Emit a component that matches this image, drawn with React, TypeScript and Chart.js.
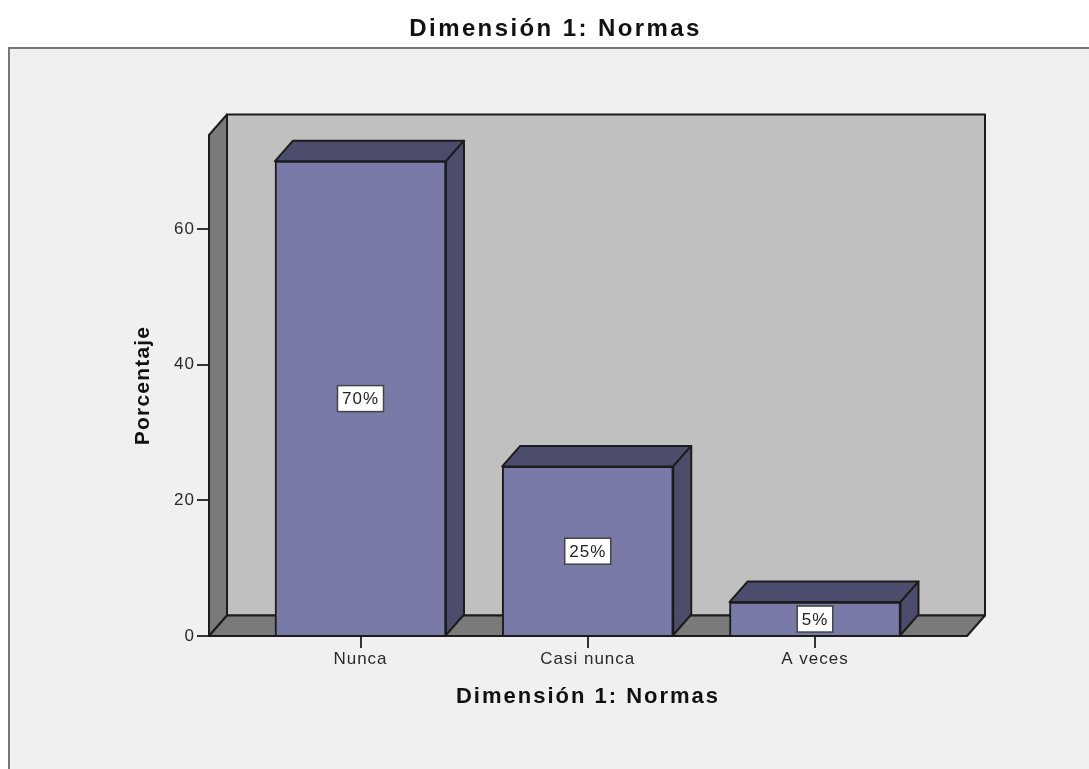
import React, { useEffect, useRef } from "react";
import { Chart, registerables } from "chart.js";

Chart.register(...registerables);

const chartTitle = "Dimensión 1: Normas";
const xAxisTitle = "Dimensión 1: Normas";
const yAxisTitle = "Porcentaje";
const categories = ["Nunca", "Casi nunca", "A veces"];
const values = [70, 25, 5];
const valueLabels = ["70%", "25%", "5%"];
const yTicks = [0, 20, 40, 60];

const FONT = "'Liberation Sans', Arial, sans-serif";
const DX = 18;
const DY = -20.5;
const LINE = "#1c1c1c";
const TICK_SPACING = "1px";

function poly(ctx: CanvasRenderingContext2D, pts: number[][], fill: string, lw = 2) {
  ctx.beginPath();
  pts.forEach(([x, y], i) => (i ? ctx.lineTo(x, y) : ctx.moveTo(x, y)));
  ctx.closePath();
  ctx.fillStyle = fill;
  ctx.fill();
  ctx.lineWidth = lw;
  ctx.strokeStyle = LINE;
  ctx.lineJoin = "round";
  ctx.stroke();
}

function spaced(ctx: any, obj: any, method: string, px: string) {
  const original = obj[method];
  obj[method] = function (...args: any[]) {
    ctx.letterSpacing = px;
    const r = original.apply(this, args);
    ctx.letterSpacing = TICK_SPACING;
    return r;
  };
}

const look3d = {
  id: "look3d",
  afterLayout(chart: any) {
    chart.titleBlock.left = 72;
    chart.titleBlock.right = chart.chartArea.right + 72;
    if (chart.$spaced) return;
    chart.$spaced = true;
    const ctx = chart.ctx;
    spaced(ctx, chart.titleBlock, "draw", "2.4px");
    spaced(ctx, chart.scales.x, "drawTitle", "2px");
    spaced(ctx, chart.scales.y, "drawTitle", "1.2px");
  },
  beforeDraw(chart: any) {
    const ctx = chart.ctx;
    ctx.letterSpacing = TICK_SPACING;
    ctx.save();
    ctx.fillStyle = "#ffffff";
    ctx.fillRect(0, 0, chart.width, chart.height);
    ctx.fillStyle = "#f0f0f0";
    ctx.fillRect(9, 48, chart.width - 9, chart.height - 48);
    ctx.strokeStyle = "#777777";
    ctx.lineWidth = 2;
    ctx.beginPath();
    ctx.moveTo(9, chart.height);
    ctx.lineTo(9, 48);
    ctx.lineTo(chart.width, 48);
    ctx.stroke();
    ctx.restore();
  },
  beforeDatasetsDraw(chart: any) {
    const ctx = chart.ctx;
    const { left, right, top, bottom } = chart.chartArea;
    ctx.save();
    poly(ctx, [[left + DX, top + DY], [right + DX, top + DY], [right + DX, bottom + DY], [left + DX, bottom + DY]], "#c0c0c0");
    poly(ctx, [[left, top], [left + DX, top + DY], [left + DX, bottom + DY], [left, bottom]], "#7a7a7a");
    poly(ctx, [[left, bottom], [left + DX, bottom + DY], [right + DX, bottom + DY], [right, bottom]], "#7a7a7a");
    const bars = chart.getDatasetMeta(0).data;
    bars.forEach((bar: any) => {
      const { x, y, width, base } = bar.getProps(["x", "y", "width", "base"], true);
      const l = x - width / 2;
      const r = x + width / 2;
      poly(ctx, [[l, y], [l + DX, y + DY], [r + DX, y + DY], [r, y]], "#4c4c6c");
      poly(ctx, [[r, y], [r + DX, y + DY], [r + DX, base + DY], [r, base]], "#4c4c6c");
    });
    ctx.restore();
  },
  afterDatasetsDraw(chart: any) {
    const ctx = chart.ctx;
    const yScale = chart.scales.y;
    const bars = chart.getDatasetMeta(0).data;
    ctx.save();
    ctx.font = `17px ${FONT}`;
    ctx.textAlign = "center";
    ctx.textBaseline = "middle";
    bars.forEach((bar: any, i: number) => {
      const cx = bar.getProps(["x"], true).x;
      const cy = yScale.getPixelForValue(values[i] / 2);
      const w = ctx.measureText(valueLabels[i]).width + 9;
      const h = 26;
      ctx.fillStyle = "#ffffff";
      ctx.strokeStyle = "#444444";
      ctx.lineWidth = 1.5;
      ctx.fillRect(cx - w / 2, cy - h / 2, w, h);
      ctx.strokeRect(cx - w / 2, cy - h / 2, w, h);
      ctx.fillStyle = "#222222";
      ctx.fillText(valueLabels[i], cx, cy + 1);
    });
    ctx.restore();
  },
};

export default function App() {
  const ref = useRef<HTMLCanvasElement>(null);

  useEffect(() => {
    const chart = new Chart(ref.current as HTMLCanvasElement, {
      type: "bar",
      data: {
        datasets: [
          {
            data: values.map((v, i) => ({ x: i, y: v })),
            backgroundColor: "#7a7aa8",
            borderColor: LINE,
            borderWidth: 2,
            barThickness: 171,
          },
        ],
      },
      options: {
        responsive: false,
        animation: false,
        devicePixelRatio: 1,
        layout: { padding: { left: 0, top: 0, bottom: 0, right: 122 } },
        plugins: {
          legend: { display: false },
          tooltip: { enabled: false },
          title: {
            display: true,
            text: chartTitle,
            color: "#111111",
            font: { family: FONT, size: 24, weight: "bold" },
            padding: { top: 15, bottom: 91.2 },
          },
        },
        scales: {
          x: {
            type: "linear",
            offset: false,
            min: -0.6667,
            max: 2.669,
            afterBuildTicks: (s: any) => {
              s.ticks = categories.map((_, i) => ({ value: i }));
            },
            afterFit: (s: any) => {
              s.height = 133;
            },
            grid: { offset: false, drawOnChartArea: false, drawTicks: true, tickLength: 12, tickColor: "#333333", lineWidth: 2 },
            border: { display: false },
            ticks: {
              autoSkip: false,
              maxRotation: 0,
              padding: 1,
              color: "#2a2a2a",
              font: { family: FONT, size: 17 },
              callback: (v: any) => categories[v],
            },
            title: {
              display: true,
              text: xAxisTitle,
              color: "#111111",
              font: { family: FONT, size: 22, weight: "bold" },
              padding: { top: 0, bottom: 59 },
            },
          },
          y: {
            min: 0,
            max: 73.86,
            afterBuildTicks: (s: any) => {
              s.ticks = yTicks.map((value) => ({ value }));
            },
            afterFit: (s: any) => {
              s.width = 209;
            },
            grid: { drawOnChartArea: false, drawTicks: true, tickLength: 12, tickColor: "#333333", lineWidth: 2 },
            border: { display: false },
            ticks: {
              padding: 2,
              color: "#2a2a2a",
              font: { family: FONT, size: 17 },
            },
            title: {
              display: true,
              text: yAxisTitle,
              color: "#111111",
              font: { family: FONT, size: 21, weight: "bold" },
              padding: { top: 131, bottom: 0 },
            },
          },
        },
      },
      plugins: [look3d],
    } as any);
    return () => chart.destroy();
  }, []);

  return (
    <canvas
      ref={ref}
      width={1089}
      height={769}
      style={{ position: "fixed", left: 0, top: 0, width: 1089, height: 769, display: "block", filter: "blur(0.4px)" }}
    />
  );
}
